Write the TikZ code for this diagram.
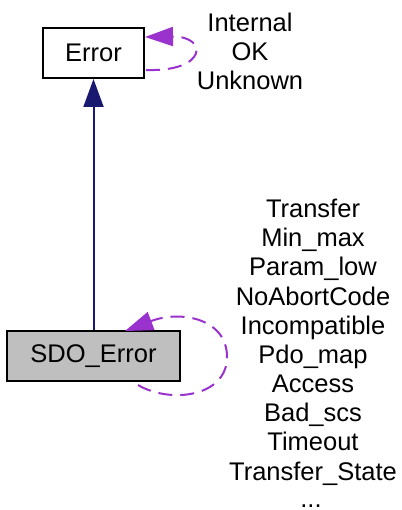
\documentclass[tikz,border=0pt]{standalone}
\usepackage{fontspec}
\setmainfont{Liberation Sans}
\usetikzlibrary{arrows.meta}
\definecolor{edgeblue}{HTML}{191970}
\definecolor{edgepurple}{HTML}{9A32CD}
\definecolor{boxgray}{HTML}{BFBFBF}
\begin{document}
\begin{tikzpicture}[x=1pt,y=-1pt,
  classbox/.style={draw=black,line width=2pt,minimum height=50pt,inner sep=0pt,font=\fontsize{25.5}{29}\selectfont},
  lbl/.style={anchor=base,inner sep=0pt,font=\fontsize{25.5}{29}\selectfont},
  inherit/.style={draw=edgeblue,line width=2pt,-{Triangle[length=28pt,width=20pt]}},
  selfloop/.style={draw=edgepurple,line width=2pt,dash pattern=on 14pt off 8pt,-{Triangle[length=28pt,width=19pt]}}]
\useasboundingbox (0,0) rectangle (401,510);
\node[classbox,minimum width=101pt,fill=white] (err) at (93.5,53) {Error};
\node[classbox,minimum width=173pt,fill=boxgray] (sdo) at (93.5,356) {SDO\_Error};
\draw[inherit] (sdo.north) -- (err.south);
\coordinate (e1) at (146,70);
\coordinate (e2) at (145,37);
\draw[selfloop] (e1) .. controls (208,72) and (208,36) .. (e2);
\coordinate (s1) at (138,385);
\coordinate (s2) at (227,357);
\coordinate (s3) at (125,331);
\draw[selfloop] (s1) .. controls (170,404) and (227,397) .. (s2) .. controls (227,318) and (180,310) .. (s3);
\node[lbl] (l1) at (250,32) {Internal};
\node[lbl] (l2) at (250,61) {OK};
\node[lbl] (l3) at (250,90) {Unknown};
\node[lbl] (m0) at (313,217.5) {Transfer};
\node[lbl] (m1) at (313,246.7) {Min\_max};
\node[lbl] (m2) at (313,275.8) {Param\_low};
\node[lbl] (m3) at (313,305) {NoAbortCode};
\node[lbl] (m4) at (313,334.2) {Incompatible};
\node[lbl] (m5) at (313,363.3) {Pdo\_map};
\node[lbl] (m6) at (313,392.5) {Access};
\node[lbl] (m7) at (313,421.7) {Bad\_scs};
\node[lbl] (m8) at (313,450.8) {Timeout};
\node[lbl] (m9) at (313,480) {Transfer\_State};
\node[lbl] (m10) at (311,507) {...};
\end{tikzpicture}
\end{document}
